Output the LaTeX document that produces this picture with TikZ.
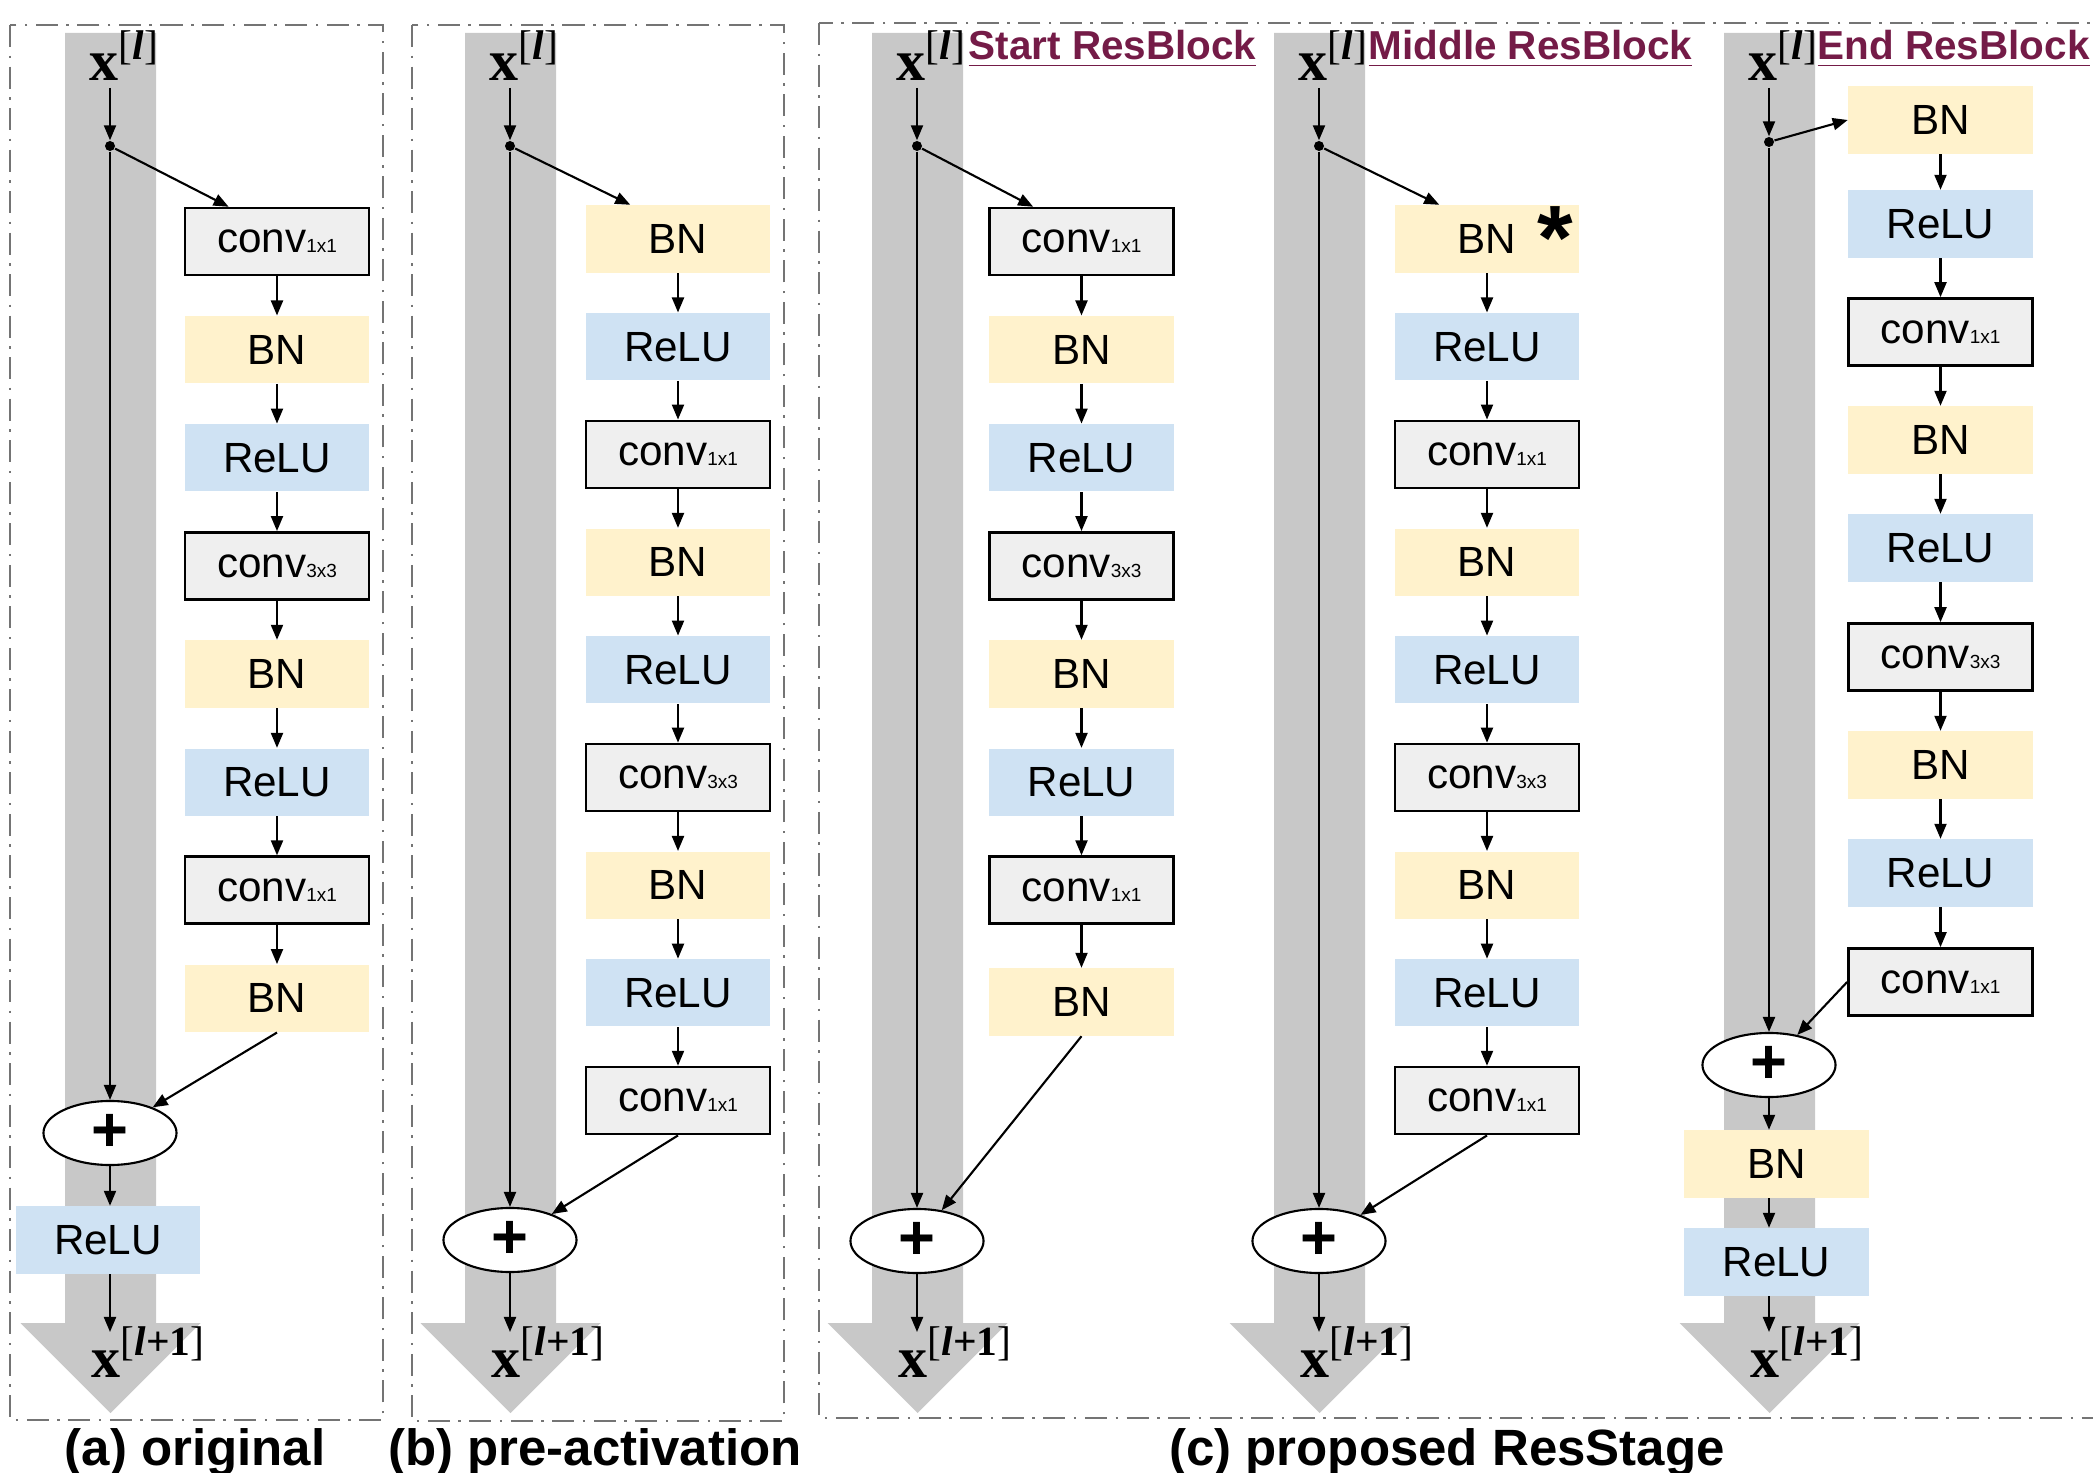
\documentclass[tikz,border=0pt]{standalone}
\usepackage{fontspec}
\setmainfont{Liberation Sans}
\newfontfamily\tms{Liberation Serif}
\usetikzlibrary{shapes.geometric,arrows.meta}
\definecolor{bnyellow}{HTML}{FFF2CC}
\definecolor{relublue}{HTML}{CFE2F3}
\definecolor{convgray}{HTML}{EFEFEF}
\definecolor{bandgray}{HTML}{C8C8C8}
\definecolor{framegray}{HTML}{747474}
\definecolor{berry}{HTML}{741B47}
\newcommand\xin{{\tms\fontsize{16.5pt}{18pt}\selectfont\textbf{x}}\raisebox{6pt}{\tms\fontsize{11.8pt}{12pt}\selectfont[\textbf{\textit{l}}]}}
\newcommand\xout{{\tms\fontsize{16.5pt}{18pt}\selectfont\textbf{x}}\raisebox{6pt}{\tms\fontsize{11.8pt}{12pt}\selectfont[\textbf{\textit{l}+1}]}}
\newcommand\cv[1]{conv{\fontsize{5.4pt}{6pt}\selectfont #1}}
\tikzset{
  boxbase/.style={minimum width=1.84cm, minimum height=0.67cm, inner sep=0pt, font=\fontsize{12pt}{14pt}\selectfont},
  convbox/.style={boxbase, fill=convgray, draw=black, line width=0.75pt},
  bnbox/.style={boxbase, fill=bnyellow},
  relubox/.style={boxbase, fill=relublue},
  sumnode/.style={ellipse, draw=black, fill=white, line width=0.6pt, minimum width=1.33cm, minimum height=0.64cm, inner sep=0pt, font=\fontsize{18pt}{18pt}\selectfont\bfseries},
  junction/.style={circle, fill=black, minimum size=0.1cm, inner sep=0pt},
  arr/.style={-{Triangle[length=0.15cm,width=0.12cm]}, line width=0.6pt},
  frame/.style={draw=framegray, line width=0.7pt, dash pattern=on 0.22cm off 0.085cm on 0.025cm off 0.085cm},
  xlab/.style={anchor=base west, inner sep=0pt},
  caption/.style={anchor=base, inner sep=0pt, font=\fontsize{14.5pt}{16pt}\selectfont\bfseries},
  blocklab/.style={anchor=base west, inner sep=0pt, text=berry, font=\fontsize{11.5pt}{13pt}\selectfont\bfseries},
}
\begin{document}
\begin{tikzpicture}[x=0.01cm,y=-0.01cm]
\useasboundingbox (0,0) rectangle (2093,1473);
\clip (0,0) rectangle (2093,1473);
% frames
\draw[frame] (10,25) rectangle (383,1420);
\draw[frame] (412,25) rectangle (784,1421);
\draw[frame] (819,23) rectangle (2130,1418);
% bands
\foreach \c in {110.5,510.5,917.5,1319.5,1769.5}{
  \fill[bandgray] (\c-45.5,33) -- (\c+45.5,33) -- (\c+45.5,1323) -- (\c+90,1323) -- (\c,1413) -- (\c-90,1323) -- (\c-45.5,1323) -- cycle;
}
% ---------------- (a) original
\node[xlab] (xinA) at (89,81) {\xin};
\coordinate (topA) at (110,88);
\node[junction] (dotA) at (110,146) {};
\node[convbox] (a1) at (277,241.6) {\cv{1x1}};
\node[bnbox] (a2) at (277,349.7) {BN};
\node[relubox] (a3) at (277,457.8) {ReLU};
\node[convbox] (a4) at (277,565.9) {\cv{3x3}};
\node[bnbox] (a5) at (277,674) {BN};
\node[relubox] (a6) at (277,782.1) {ReLU};
\node[convbox] (a7) at (277,890.2) {\cv{1x1}};
\node[bnbox] (a8) at (277,998.3) {BN};
\node[sumnode] (sumA) at (110,1133) {+};
\node[relubox] (a9) at (108,1240) {ReLU};
\node[xlab] (xoutA) at (91,1377) {\xout};
\coordinate (endA) at (110,1332);
\draw[arr] (topA) -- (dotA);
\draw[arr] (dotA) -- ([xshift=0.45cm]a1.north west);
\foreach \i/\j in {a1/a2,a2/a3,a3/a4,a4/a5,a5/a6,a6/a7,a7/a8}{\draw[arr] (\i.south) -- (\j.north);}
\draw[arr] (dotA) -- (sumA);
\draw[arr] (a8.south) -- (sumA);
\draw[arr] (sumA.south) -- (sumA.south |- a9.north);
\draw[arr] (a9.south -| endA) -- (endA);
\node[caption] (capA) at (195,1465) {(a) original};
% ---------------- (b) pre-activation
\node[xlab] (xinB) at (489,81) {\xin};
\coordinate (topB) at (510,88);
\node[junction] (dotB) at (510,146) {};
\node[bnbox] (b1) at (678,239) {BN};
\node[relubox] (b2) at (678,346.7) {ReLU};
\node[convbox] (b3) at (678,454.4) {\cv{1x1}};
\node[bnbox] (b4) at (678,562.1) {BN};
\node[relubox] (b5) at (678,669.8) {ReLU};
\node[convbox] (b6) at (678,777.5) {\cv{3x3}};
\node[bnbox] (b7) at (678,885.2) {BN};
\node[relubox] (b8) at (678,992.9) {ReLU};
\node[convbox] (b9) at (678,1100.6) {\cv{1x1}};
\node[sumnode] (sumB) at (510,1240) {+};
\node[xlab] (xoutB) at (491,1377) {\xout};
\coordinate (endB) at (510,1332);
\draw[arr] (topB) -- (dotB);
\draw[arr] (dotB) -- ([xshift=0.45cm]b1.north west);
\foreach \i/\j in {b1/b2,b2/b3,b3/b4,b4/b5,b5/b6,b6/b7,b7/b8,b8/b9}{\draw[arr] (\i.south) -- (\j.north);}
\draw[arr] (dotB) -- (sumB);
\draw[arr] (b9.south) -- (sumB);
\draw[arr] (sumB.south) -- (endB);
\node[caption] (capB) at (595,1465) {(b) pre-activation};
% ---------------- (c) start
\node[xlab] (xinS) at (896,81) {\xin};
\node[blocklab] (labS) at (968,60) {\underline{Start ResBlock}};
\coordinate (topS) at (917,88);
\node[junction] (dotS) at (917,146) {};
\node[convbox] (s1) at (1081.5,241.6) {\cv{1x1}};
\node[bnbox] (s2) at (1081.5,349.7) {BN};
\node[relubox] (s3) at (1081.5,457.8) {ReLU};
\node[convbox] (s4) at (1081.5,565.9) {\cv{3x3}};
\node[bnbox] (s5) at (1081.5,674) {BN};
\node[relubox] (s6) at (1081.5,782.1) {ReLU};
\node[convbox] (s7) at (1081.5,890.2) {\cv{1x1}};
\node[bnbox] (s8) at (1081.5,1002) {BN};
\node[sumnode] (sumS) at (917,1241) {+};
\node[xlab] (xoutS) at (898,1377) {\xout};
\coordinate (endS) at (917,1332);
\draw[arr] (topS) -- (dotS);
\draw[arr] (dotS) -- ([xshift=0.45cm]s1.north west);
\foreach \i/\j in {s1/s2,s2/s3,s3/s4,s4/s5,s5/s6,s6/s7,s7/s8}{\draw[arr] (\i.south) -- (\j.north);}
\draw[arr] (dotS) -- (sumS);
\draw[arr] (s8.south) -- (sumS);
\draw[arr] (sumS.south) -- (endS);
% ---------------- (c) middle
\node[xlab] (xinM) at (1298,81) {\xin};
\node[blocklab] (labM) at (1368,60) {\underline{Middle ResBlock}};
\coordinate (topM) at (1319,88);
\node[junction] (dotM) at (1319,146) {};
\node[bnbox] (m1) at (1487,239) {BN};
\node[anchor=center, inner sep=0pt, font=\fontsize{26pt}{26pt}\selectfont\bfseries] (star) at (1555,238) {*};
\node[relubox] (m2) at (1487,346.7) {ReLU};
\node[convbox] (m3) at (1487,454.4) {\cv{1x1}};
\node[bnbox] (m4) at (1487,562.1) {BN};
\node[relubox] (m5) at (1487,669.8) {ReLU};
\node[convbox] (m6) at (1487,777.5) {\cv{3x3}};
\node[bnbox] (m7) at (1487,885.2) {BN};
\node[relubox] (m8) at (1487,992.9) {ReLU};
\node[convbox] (m9) at (1487,1100.6) {\cv{1x1}};
\node[sumnode] (sumM) at (1319,1241) {+};
\node[xlab] (xoutM) at (1300,1377) {\xout};
\coordinate (endM) at (1319,1332);
\draw[arr] (topM) -- (dotM);
\draw[arr] (dotM) -- ([xshift=0.45cm]m1.north west);
\foreach \i/\j in {m1/m2,m2/m3,m3/m4,m4/m5,m5/m6,m6/m7,m7/m8,m8/m9}{\draw[arr] (\i.south) -- (\j.north);}
\draw[arr] (dotM) -- (sumM);
\draw[arr] (m9.south) -- (sumM);
\draw[arr] (sumM.south) -- (endM);
% ---------------- (c) end
\node[xlab] (xinE) at (1748,81) {\xin};
\node[blocklab] (labE) at (1817,60) {\underline{End ResBlock}};
\coordinate (topE) at (1769,88);
\node[junction] (dotE) at (1769,142) {};
\node[bnbox] (e1) at (1940.5,120) {BN};
\node[relubox] (e2) at (1940.5,224) {ReLU};
\node[convbox] (e3) at (1940.5,332) {\cv{1x1}};
\node[bnbox] (e4) at (1940.5,440) {BN};
\node[relubox] (e5) at (1940.5,548) {ReLU};
\node[convbox] (e6) at (1940.5,657) {\cv{3x3}};
\node[bnbox] (e7) at (1940.5,765) {BN};
\node[relubox] (e8) at (1940.5,873) {ReLU};
\node[convbox] (e9) at (1940.5,982) {\cv{1x1}};
\node[sumnode] (sumE) at (1769,1065) {+};
\node[bnbox] (e10) at (1776.5,1164) {BN};
\node[relubox] (e11) at (1776.5,1262) {ReLU};
\node[xlab] (xoutE) at (1750,1377) {\xout};
\coordinate (endE) at (1769,1332);
\draw[arr] (topE) -- (dotE);
\draw[arr] (dotE) -- (e1.west);
\foreach \i/\j in {e1/e2,e2/e3,e3/e4,e4/e5,e5/e6,e6/e7,e7/e8,e8/e9}{\draw[arr] (\i.south) -- (\j.north);}
\draw[arr] (dotE) -- (sumE);
\draw[arr] (e9.west) -- (sumE);
\draw[arr] (sumE.south) -- (sumE.south |- e10.north);
\draw[arr] (e10.south -| sumE) -- (e11.north -| sumE);
\draw[arr] (e11.south -| endE) -- (endE);
\node[caption] (capC) at (1447,1465) {(c) proposed ResStage};
\end{tikzpicture}
\end{document}
